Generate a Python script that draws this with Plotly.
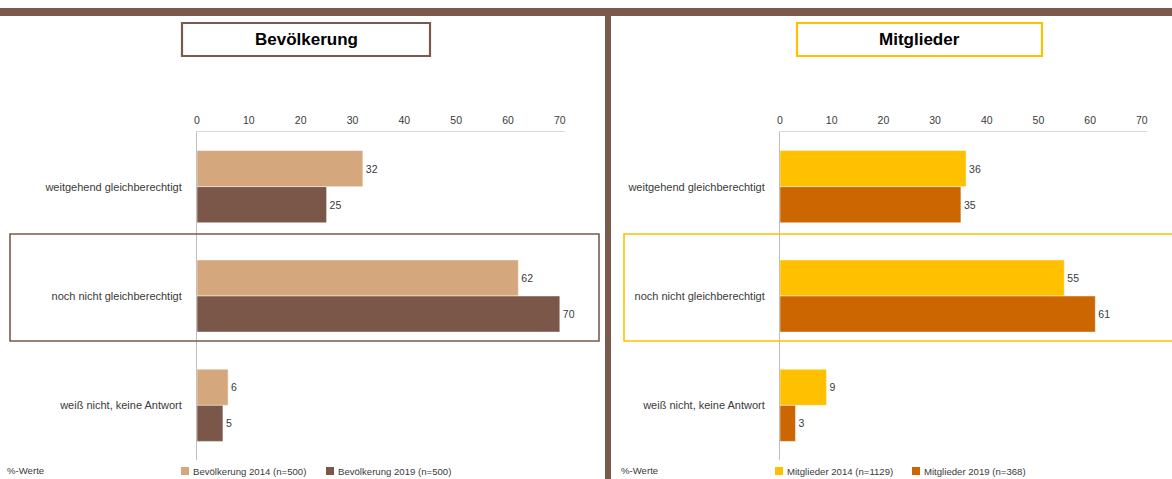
import plotly.graph_objects as go

W, H = 1172, 479

categories = ["weitgehend gleichberechtigt", "noch nicht gleichberechtigt", "weiß nicht, keine Antwort"]
bev_2014 = [32, 62, 6]
bev_2019 = [25, 70, 5]
mit_2014 = [36, 55, 9]
mit_2019 = [35, 61, 3]
tick_vals = [0, 10, 20, 30, 40, 50, 60, 70]
names = ["Bevölkerung 2014 (n=500)", "Bevölkerung 2019 (n=500)",
         "Mitglieder 2014 (n=1129)", "Mitglieder 2019 (n=368)"]
titles = ["Bevölkerung", "Mitglieder"]

BROWN = "#7B5A4E"
TAN = "#D4A77C"
DARKBROWN = "#7B5749"
GOLD = "#FFC000"
ORANGE = "#CC6600"
TXT = "#3A3A3A"
FONT = "Liberation Sans"

def px(x):
    return x / W

def py(y):
    return 1 - y / H

fig = go.Figure()

def add_bar(vals, name, color, xa, ya):
    fig.add_trace(go.Bar(
        y=categories, x=vals, name=name, orientation="h",
        marker=dict(color=color, line=dict(color="rgba(255,255,255,0.6)", width=0.8)),
        text=[str(v) for v in vals], textposition="outside",
        textfont=dict(size=10.5, color=TXT, family=FONT),
        cliponaxis=False, xaxis=xa, yaxis=ya, showlegend=False,
    ))

add_bar(bev_2014, names[0], TAN, "x", "y")
add_bar(bev_2019, names[1], DARKBROWN, "x", "y")
add_bar(mit_2014, names[2], GOLD, "x2", "y2")
add_bar(mit_2019, names[3], ORANGE, "x2", "y2")

ydom = [py(460), py(132)]
xcommon = dict(range=[0, 71], tickvals=tick_vals, side="top", showgrid=False,
               zeroline=False, showline=True, linecolor="#D9D9D9", linewidth=1,
               ticks="", tickfont=dict(size=10.5, color=TXT, family=FONT),
               ticklabelstandoff=3, fixedrange=True)
ycommon = dict(autorange="reversed", showgrid=False, zeroline=False, showline=True,
               linecolor="#BFBFBF", linewidth=1, ticks="",
               tickfont=dict(size=11, color=TXT, family=FONT),
               ticklabelstandoff=12, domain=ydom, fixedrange=True)

fig.update_layout(
    template="none",
    width=W, height=H, margin=dict(l=0, r=0, t=0, b=0, pad=0),
    paper_bgcolor="white", plot_bgcolor="white",
    barmode="group", bargap=0.34, bargroupgap=0,
    font=dict(family=FONT, color=TXT, size=10),
    xaxis=dict(domain=[px(197), px(565)], anchor="y", **xcommon),
    yaxis=dict(anchor="x", **ycommon),
    xaxis2=dict(domain=[px(780), px(1147)], anchor="y2", **xcommon),
    yaxis2=dict(anchor="x2", **ycommon),
    showlegend=False,
)

shapes = [
    # top band
    dict(type="rect", xref="paper", yref="paper", x0=0, x1=1, y0=py(16), y1=py(8),
         fillcolor=BROWN, line=dict(width=0), layer="above"),
    # divider
    dict(type="rect", xref="paper", yref="paper", x0=px(605), x1=px(611), y0=0, y1=py(15),
         fillcolor=BROWN, line=dict(width=0), layer="above"),
    # title boxes
    dict(type="rect", xref="paper", yref="paper", x0=px(182), x1=px(430), y0=py(56), y1=py(23),
         fillcolor="rgba(0,0,0,0)", line=dict(color=BROWN, width=2.2)),
    dict(type="rect", xref="paper", yref="paper", x0=px(797), x1=px(1042), y0=py(56), y1=py(23),
         fillcolor="rgba(0,0,0,0)", line=dict(color=GOLD, width=2.2)),
    # highlight boxes
    dict(type="rect", xref="paper", yref="paper", x0=px(10), x1=px(599), y0=py(341), y1=py(234),
         fillcolor="rgba(0,0,0,0)", line=dict(color=BROWN, width=1.6), layer="above"),
    dict(type="rect", xref="paper", yref="paper", x0=px(624), x1=px(1180), y0=py(341), y1=py(234),
         fillcolor="rgba(0,0,0,0)", line=dict(color=GOLD, width=1.6), layer="above"),
]

# manual legends (small squares + text), positioned like the reference
legend_items = [
    (181, names[0], TAN), (326, names[1], DARKBROWN),
    (775, names[2], GOLD), (912, names[3], ORANGE),
]
annotations = []
for lx, label, col in legend_items:
    shapes.append(dict(type="rect", xref="paper", yref="paper",
                       x0=px(lx), x1=px(lx + 8), y0=py(475), y1=py(467),
                       fillcolor=col, line=dict(width=0)))
    annotations.append(dict(text=label, xref="paper", yref="paper", x=px(lx + 10), y=py(471),
                            showarrow=False, font=dict(size=9.6, color=TXT, family=FONT),
                            xanchor="left", yanchor="middle"))

fig.update_layout(shapes=shapes)

annotations += [
    dict(text="<b>%s</b>" % titles[0], xref="paper", yref="paper", x=px(306), y=py(39.5),
         showarrow=False, font=dict(size=17, color="black", family=FONT),
         xanchor="center", yanchor="middle"),
    dict(text="<b>%s</b>" % titles[1], xref="paper", yref="paper", x=px(919.5), y=py(39.5),
         showarrow=False, font=dict(size=17, color="black", family=FONT),
         xanchor="center", yanchor="middle"),
    dict(text="%-Werte", xref="paper", yref="paper", x=px(5), y=py(478),
         showarrow=False, font=dict(size=9.6, color=TXT, family=FONT),
         xanchor="left", yanchor="bottom"),
    dict(text="%-Werte", xref="paper", yref="paper", x=px(619), y=py(478),
         showarrow=False, font=dict(size=9.6, color=TXT, family=FONT),
         xanchor="left", yanchor="bottom"),
]
fig.update_layout(annotations=annotations)

fig.write_html("out.html", config={"displayModeBar": False},
               post_script="document.body.style.margin='0';")
